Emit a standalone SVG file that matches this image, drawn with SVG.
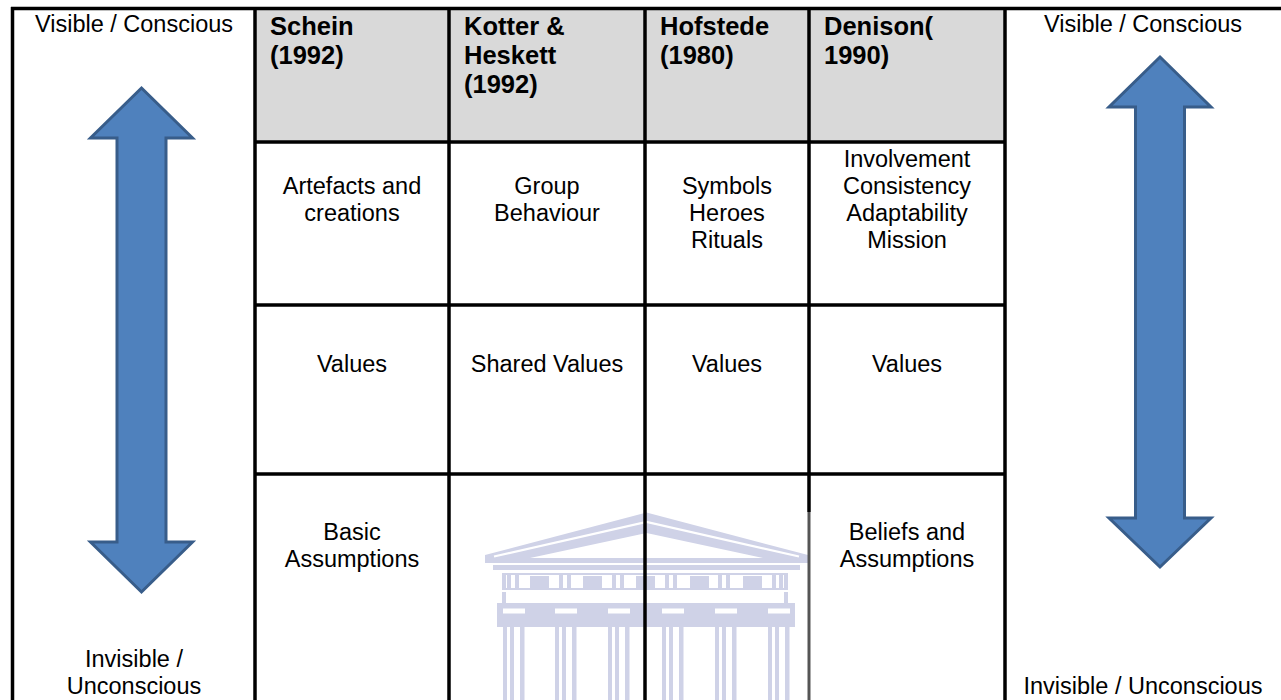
<svg xmlns="http://www.w3.org/2000/svg" width="1281" height="700" viewBox="0 0 1281 700">
  <style>
    .t { font-family: "Liberation Sans", Arial, sans-serif; font-size: 23.5px; fill: #000; }
    .c { text-anchor: middle; }
    .h { font-family: "Liberation Sans", Arial, sans-serif; font-size: 25.5px; font-weight: bold; fill: #000; }
    .ln { stroke: #000; stroke-width: 3.5; fill: none; }
    .arrow { fill: #4f81bd; stroke: #385d8a; stroke-width: 3; stroke-linejoin: miter; }
    .wm { fill: #cfd2e7; }
    .wh { fill: #fff; }
  </style>
  <rect x="0" y="0" width="1281" height="700" fill="#fff"/>
  <g id="header-fill">
    <rect x="255" y="8.5" width="750" height="133.5" fill="#d9d9d9"/>
  </g>
  <g id="watermark">
    <polygon class="wm" points="485,563 485,555 646.5,512.5 808,555 808,563"/>
    <polyline fill="none" stroke="#fff" stroke-width="2.2" points="494,556.5 646.5,522 799,556.5"/>
    <polygon class="wh" points="530,558 646.5,533 763,558"/>
    <rect class="wh" x="493" y="563" width="307" height="2"/>
    <rect class="wm" x="493" y="565" width="307" height="5"/>
    <g class="wm">
      <rect x="502" y="573" width="286" height="2"/>
      <rect x="502" y="588" width="286" height="2"/>
      <rect x="502" y="573" width="4" height="17"/><rect x="784" y="573" width="4" height="17"/>
      <rect x="507" y="575" width="4" height="13"/><rect x="515" y="575" width="4" height="13"/>
      <rect x="530" y="576" width="19" height="12"/>
      <rect x="559" y="575" width="4" height="13"/><rect x="567" y="575" width="4" height="13"/>
      <rect x="583" y="576" width="19" height="12"/>
      <rect x="612" y="575" width="4" height="13"/><rect x="620" y="575" width="4" height="13"/>
      <rect x="636" y="576" width="19" height="12"/>
      <rect x="665" y="575" width="4" height="13"/><rect x="673" y="575" width="4" height="13"/>
      <rect x="690" y="576" width="19" height="12"/>
      <rect x="718" y="575" width="4" height="13"/><rect x="726" y="575" width="4" height="13"/>
      <rect x="743" y="576" width="19" height="12"/>
      <rect x="772" y="575" width="4" height="13"/><rect x="779" y="575" width="4" height="13"/>
      <rect x="502" y="592" width="4" height="12"/><rect x="784" y="592" width="4" height="12"/>
      <rect x="497" y="603" width="298" height="24"/>
    </g>
    <g class="wh">
      <rect x="503" y="608.5" width="22" height="5"/>
      <rect x="555" y="608.5" width="22" height="5"/>
      <rect x="608" y="608.5" width="22" height="5"/>
      <rect x="662" y="608.5" width="22" height="5"/>
      <rect x="715" y="608.5" width="22" height="5"/>
      <rect x="768" y="608.5" width="22" height="5"/>
    </g>
    <g class="wm">
      <rect x="503" y="627" width="4" height="73"/><rect x="510" y="627" width="4" height="73"/><rect x="520" y="627" width="4.5" height="73"/>
      <rect x="555" y="627" width="4" height="73"/><rect x="562" y="627" width="4" height="73"/><rect x="572" y="627" width="4.5" height="73"/>
      <rect x="608" y="627" width="4" height="73"/><rect x="615" y="627" width="4" height="73"/><rect x="625" y="627" width="4.5" height="73"/>
      <rect x="662" y="627" width="4" height="73"/><rect x="669" y="627" width="4" height="73"/><rect x="679" y="627" width="4.5" height="73"/>
      <rect x="715" y="627" width="4" height="73"/><rect x="722" y="627" width="4" height="73"/><rect x="732" y="627" width="4.5" height="73"/>
      <rect x="768" y="627" width="4" height="73"/><rect x="775" y="627" width="4" height="73"/><rect x="785" y="627" width="4.5" height="73"/>
    </g>
  </g>
  <g id="grid" class="connectors">
    <line class="ln" x1="11" y1="8.5" x2="1281" y2="8.5"/>
    <line class="ln" x1="12.5" y1="7" x2="12.5" y2="700"/>
    <line class="ln" x1="255" y1="7" x2="255" y2="700"/>
    <line class="ln" x1="449" y1="7" x2="449" y2="700"/>
    <line class="ln" x1="645" y1="7" x2="645" y2="700"/>
    <line class="ln" x1="809" y1="7" x2="809" y2="512"/>
    <line x1="809" y1="512" x2="809" y2="700" stroke="#555" stroke-width="3"/>
    <line class="ln" x1="1005" y1="7" x2="1005" y2="700"/>
    <line class="ln" x1="255" y1="142" x2="1005" y2="142"/>
    <line class="ln" x1="255" y1="305" x2="1005" y2="305"/>
    <line class="ln" x1="255" y1="474" x2="1005" y2="474"/>
  </g>
  <g id="left-scale">
    <text class="t c" x="134" y="32">Visible / Conscious</text>
    <path class="arrow" d="M141.5,88 L192.5,138 L166,138 L166,542 L192.5,542 L141.5,592 L90.5,542 L117,542 L117,138 L90.5,138 Z"/>
    <text class="t c" x="134" y="667">Invisible /</text>
    <text class="t c" x="134" y="694">Unconscious</text>
  </g>
  <g id="right-scale">
    <text class="t c" x="1143" y="32">Visible / Conscious</text>
    <path class="arrow" d="M1160,57 L1211,107 L1184.5,107 L1184.5,518 L1211,518 L1160,567 L1109,518 L1135.5,518 L1135.5,107 L1109,107 Z"/>
    <text class="t c" x="1143" y="694">Invisible / Unconscious</text>
  </g>
  <g id="schein">
    <text class="h" x="270" y="35">Schein</text>
    <text class="h" x="270" y="64">(1992)</text>
    <text class="t c" x="352" y="194">Artefacts and</text>
    <text class="t c" x="352" y="221">creations</text>
    <text class="t c" x="352" y="372">Values</text>
    <text class="t c" x="352" y="540">Basic</text>
    <text class="t c" x="352" y="567">Assumptions</text>
  </g>
  <g id="kotter">
    <text class="h" x="464" y="35">Kotter &amp;</text>
    <text class="h" x="464" y="64">Heskett</text>
    <text class="h" x="464" y="93">(1992)</text>
    <text class="t c" x="547" y="194">Group</text>
    <text class="t c" x="547" y="221">Behaviour</text>
    <text class="t c" x="547" y="372">Shared Values</text>
  </g>
  <g id="hofstede">
    <text class="h" x="660" y="35">Hofstede</text>
    <text class="h" x="660" y="64">(1980)</text>
    <text class="t c" x="727" y="194">Symbols</text>
    <text class="t c" x="727" y="221">Heroes</text>
    <text class="t c" x="727" y="248">Rituals</text>
    <text class="t c" x="727" y="372">Values</text>
  </g>
  <g id="denison">
    <text class="h" x="824" y="35">Denison(</text>
    <text class="h" x="824" y="64">1990)</text>
    <text class="t c" x="907" y="167">Involvement</text>
    <text class="t c" x="907" y="194">Consistency</text>
    <text class="t c" x="907" y="221">Adaptability</text>
    <text class="t c" x="907" y="248">Mission</text>
    <text class="t c" x="907" y="372">Values</text>
    <text class="t c" x="907" y="540">Beliefs and</text>
    <text class="t c" x="907" y="567">Assumptions</text>
  </g>
</svg>
